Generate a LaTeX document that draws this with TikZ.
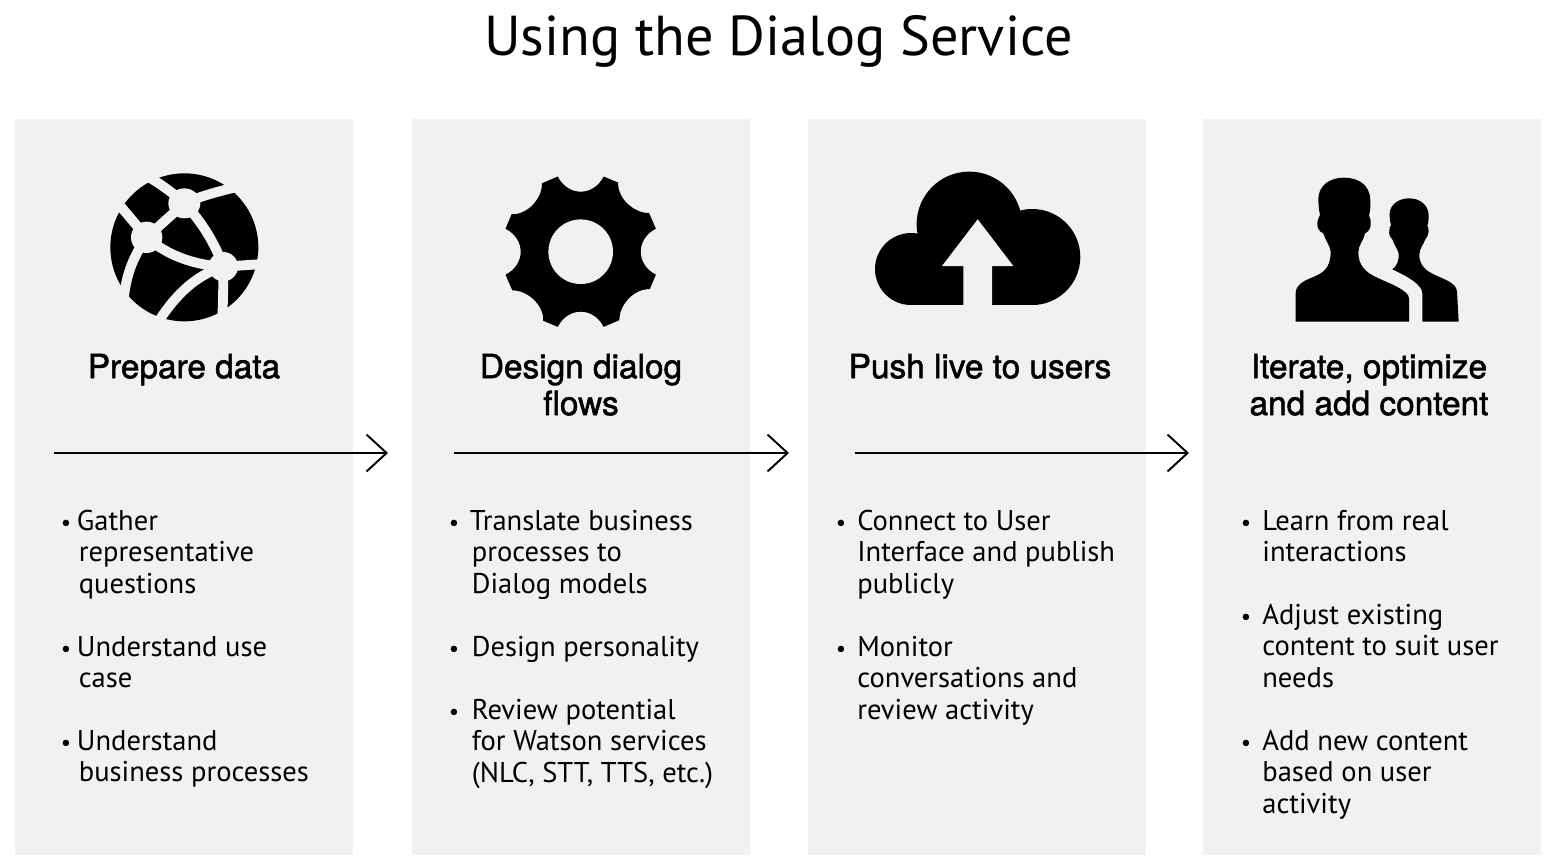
\documentclass[tikz,border=0pt]{standalone}
\usepackage{fontspec}
\usepackage{xcolor}
\usetikzlibrary{arrows.meta, positioning}
\setmainfont{PT Sans}
\newfontfamily\headfont[FakeBold=1.6]{TeX Gyre Heros}
\definecolor{panelgray}{HTML}{F1F1F1}
\tikzstyle{panel} = [rectangle, minimum width=6.76cm, minimum height=14.72cm, inner sep=0pt, outer sep=0pt, fill=panelgray]
\tikzstyle{heading} = [anchor=north, inner sep=0pt, align=center, font=\headfont\fontsize{19}{21}\selectfont]
\tikzstyle{body} = [anchor=north west, inner sep=0pt, align=left, font=\fontsize{16.25}{17.9}\selectfont]
\tikzstyle{dot} = [anchor=north, inner sep=0pt, font=\fontsize{13}{17.9}\selectfont]
\tikzstyle{arrow} = [line width=1.1pt,-{Straight Barb[length=11.4pt,width=21pt]}]
\tikzstyle{seam} = [draw=panelgray, line width=5.6pt]
\begin{document}
\begin{tikzpicture}[x=0.02cm, y=-0.02cm]
    \useasboundingbox (0,0) rectangle (1555,862);
    \node (title) [anchor=base, inner sep=0pt, font=\fontsize{32}{36}\selectfont] at (778.5,55) {Using the Dialog Service};

    % panels
    \node (p1) [panel, anchor=north west] at (15,119) {};
    \node (p2) [panel, right=1.18cm of p1] {};
    \node (p3) [panel, right=1.16cm of p2] {};
    \node (p4) [panel, right=1.14cm of p3] {};

    % globe
    \begin{scope}[shift={(90,160)}, scale=1/3]
        \fill[black] (283,262) circle (222);
        \draw[seam] (165,45) .. controls (210,70) and (250,100) .. (283,130);
        \draw[seam] (283,130) .. controls (340,105) and (400,90) .. (480,72);
        \draw[seam] (283,130) -- (170,232);
        \draw[seam] (170,232) -- (80,125);
        \draw[seam] (170,232) .. controls (130,290) and (110,340) .. (102,410);
        \draw[seam] (170,232) .. controls (230,285) and (310,315) .. (400,320);
        \draw[seam] (283,130) .. controls (335,185) and (375,250) .. (400,320);
        \draw[seam] (400,320) -- (520,312);
        \draw[seam] (400,320) .. controls (320,345) and (260,400) .. (205,485);
        \draw[seam] (400,320) .. controls (400,360) and (400,400) .. (397,470);
        \fill[panelgray] (283,130) ellipse (48 and 45);
        \fill[panelgray] (170,232) circle (47);
        \fill[panelgray] (400,320) circle (44);
    \end{scope}

    % gear
    \begin{scope}[shift={(580.7,251.7)}]
        \fill[black] (-17:78.6) \foreach \a in {0,90,180,270} {
            .. controls (\a-13:56.4) and (\a+13:56.4) .. (\a+17:78.6) -- (\a+28.5:78.6)
            .. controls (\a+34.5:64.7) and (\a+54.3:65.7) .. (\a+60.5:78.6) -- (\a+73:78.6)
        } -- cycle;
        \fill[panelgray] (0,0) circle (32.3);
    \end{scope}

    % cloud
    \fill[black] (969.3,224.3) circle (52.7);
    \fill[black] (911,269) circle (36);
    \fill[black] (1032.3,257) circle (48);
    \fill[black] (911,250) rectangle (1032.3,305);
    \fill[panelgray] (977.7,219.3) -- (1013.3,266) -- (992,266) -- (992,306) -- (963.3,306) -- (963.3,266) -- (942,266) -- cycle;

    % people
    \begin{scope}[shift={(1280,165)}, scale=1/3]
        \fill[black] (47,470) -- (47,385) .. controls (47,360) and (70,348) .. (90,340)
            .. controls (130,325) and (152,310) .. (152,260) .. controls (150,240) and (135,225) .. (130,205)
            .. controls (118,200) and (112,190) .. (112,178) .. controls (112,165) and (116,158) .. (120,150)
            .. controls (116,130) and (115,115) .. (115,100) .. controls (117,60) and (150,38) .. (192,38)
            .. controls (235,38) and (270,60) .. (271,105) .. controls (272,125) and (270,140) .. (267,152)
            .. controls (272,160) and (274,170) .. (272,180) .. controls (271,192) and (265,200) .. (255,205)
            .. controls (250,228) and (235,240) .. (235,262) .. controls (235,300) and (255,320) .. (285,335)
            .. controls (320,352) and (387,375) .. (387,400) -- (387,470) -- cycle;
        \fill[black] (427,470) -- (427,385) .. controls (427,360) and (385,335) .. (337,313)
            .. controls (350,303) and (357,290) .. (356,265) .. controls (352,250) and (342,240) .. (338,225)
            .. controls (330,218) and (326,208) .. (328,195) .. controls (328,188) and (330,185) .. (333,182)
            .. controls (330,170) and (329,160) .. (329,145) .. controls (330,120) and (355,100) .. (387,100)
            .. controls (420,100) and (445,120) .. (446,150) .. controls (446,165) and (445,175) .. (442,182)
            .. controls (448,190) and (448,210) .. (435,225) .. controls (430,240) and (418,250) .. (418,270)
            .. controls (418,295) and (430,310) .. (450,322) .. controls (480,340) and (530,350) .. (531,380)
            -- (536,470) -- cycle;
    \end{scope}

    % headings
    \node (h1) [heading] at (184,352) {\strut Prepare data};
    \node (h2) [heading] at (581,352) {\strut Design dialog\\flows};
    \node (h3) [heading] at (980,352) {\strut Push live to users};
    \node (h4) [heading] at (1369,352) {\strut Iterate, optimize\\and add content};

    % arrows
    \coordinate (a1s) at (54,453);
    \coordinate (a1e) at (388,453);
    \coordinate (a2s) at (454,453);
    \coordinate (a2e) at (789,453);
    \coordinate (a3s) at (855,453);
    \coordinate (a3e) at (1189,453);
    \draw [arrow] (a1s) -- (a1e);
    \draw [arrow] (a2s) -- (a2e);
    \draw [arrow] (a3s) -- (a3e);

    % column 1
    \node (d11) [dot] at (66,508) {\strut •};
    \node (t11) [body] at (78.5,508) {\strut\hspace*{-1.1pt}Gather\\representative\\questions};
    \node (d12) [dot] at (66,634) {\strut •};
    \node (t12) [body] at (78.5,634) {\strut\hspace*{-1.1pt}Understand use\\case};
    \node (d13) [dot] at (66,728) {\strut •};
    \node (t13) [body] at (78.5,728) {\strut\hspace*{-1.1pt}Understand\\business processes};

    % column 2
    \node (d21) [dot] at (454,508) {\strut •};
    \node (t21) [body] at (471.5,508) {\strut\hspace*{-1.1pt}Translate business\\processes to\\Dialog models};
    \node (d22) [dot] at (454,634) {\strut •};
    \node (t22) [body] at (471.5,634) {\strut Design personality};
    \node (d23) [dot] at (454,697) {\strut •};
    \node (t23) [body] at (471.5,697) {\strut Review potential\\for Watson services\\(NLC, STT, TTS, etc.)};

    % column 3
    \node (d31) [dot] at (841,508) {\strut •};
    \node (t31) [body] at (857,508) {\strut Connect to User\\Interface and publish\\publicly};
    \node (d32) [dot] at (841,634) {\strut •};
    \node (t32) [body] at (857,634) {\strut Monitor\\conversations and\\review activity};

    % column 4
    \node (d41) [dot] at (1246,508) {\strut •};
    \node (t41) [body] at (1262,508) {\strut Learn from real\\interactions};
    \node (d42) [dot] at (1246,602) {\strut •};
    \node (t42) [body] at (1262,602) {\strut Adjust existing\\content to suit user\\needs};
    \node (d43) [dot] at (1246,728) {\strut •};
    \node (t43) [body] at (1262,728) {\strut Add new content\\based on user\\activity};
\end{tikzpicture}
\end{document}
